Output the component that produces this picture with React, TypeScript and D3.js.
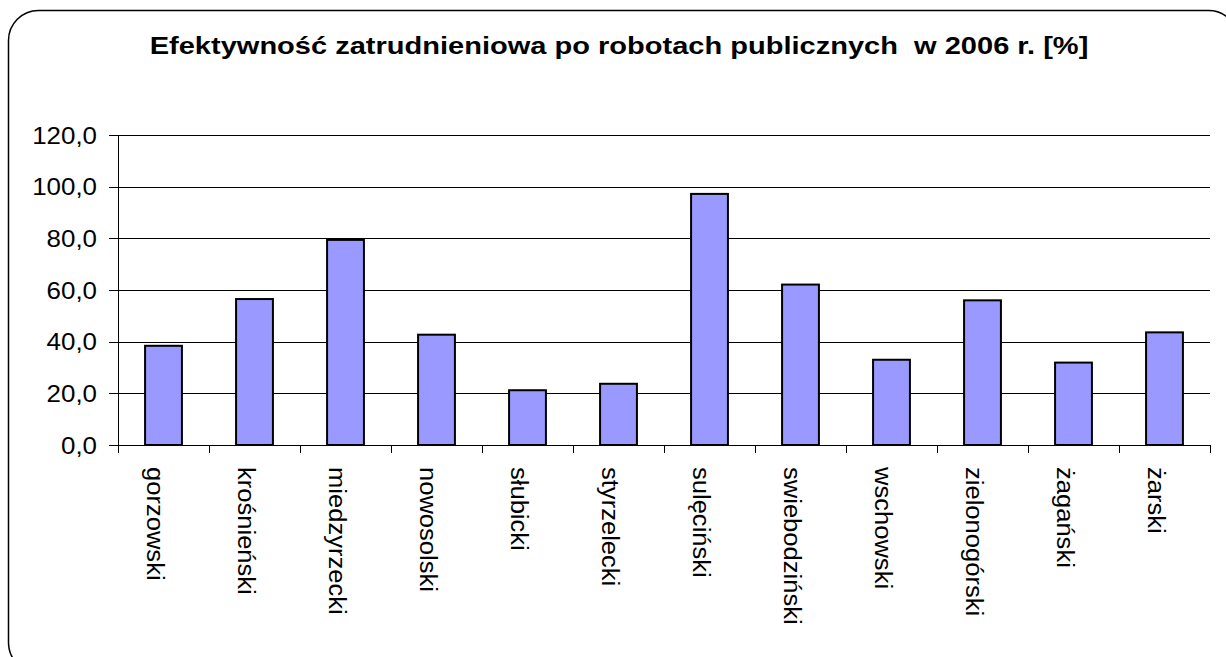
import React from 'react';
import * as d3 from 'd3';

const CATEGORIES = [
  'gorzowski',
  'krośnieński',
  'miedzyrzecki',
  'nowosolski',
  'słubicki',
  'styrzelecki',
  'sulęciński',
  'swiebodziński',
  'wschowski',
  'zielonogórski',
  'żagański',
  'żarski',
];
const VALUES = [38.4, 56.5, 79.4, 42.7, 21.2, 23.7, 97.2, 62.1, 33.0, 56.0, 31.9, 43.6];
const Y_TICKS = [0, 20, 40, 60, 80, 100, 120];
const TITLE = 'Efektywność zatrudnieniowa po robotach publicznych\u00a0 w 2006 r. [%]';

const W = 1226;
const H = 657;
const FONT = 'Arial, "Liberation Sans", sans-serif';

export default function App() {
  const left = 118;
  const right = 1210;
  const top = 135;
  const bottom = 445;

  const x = d3.scaleBand<string>().domain(CATEGORIES).range([left, right]).paddingInner(0.595).paddingOuter(0.2975);
  const y = d3.scaleLinear().domain([0, 120]).range([bottom, top]);
  const step = x.step();
  const fmt = (v: number) => v.toFixed(1).replace('.', ',');

  return (
    <svg width={W} height={H} style={{ position: 'absolute', left: 0, top: 0, background: '#fff' }}>
      <rect x={8.5} y={10.5} width={1230} height={662} rx={30} ry={30} fill="#fff" stroke="#000" strokeWidth={1.5} />
      <text
        transform="translate(619,54) scale(1.21,1)"
        textAnchor="middle"
        fontFamily={FONT}
        fontWeight="bold"
        fontSize={24}
      >
        {TITLE}
      </text>

      {Y_TICKS.map((t) => (
        <g key={t}>
          <line x1={left - 9} x2={right} y1={Math.round(y(t)) + 0.5} y2={Math.round(y(t)) + 0.5} stroke="#000" strokeWidth={1} />
          <text
            transform={`translate(97,${y(t)}) scale(1.08,1)`}
            dy="0.36em"
            textAnchor="end"
            fontFamily={FONT}
            fontSize={24}
          >
            {fmt(t)}
          </text>
        </g>
      ))}

      <line x1={left + 0.5} x2={left + 0.5} y1={top} y2={bottom + 8} stroke="#000" strokeWidth={1} />
      {d3.range(CATEGORIES.length + 1).map((i) => (
        <line key={i} x1={Math.round(left + i * step) + 0.5} x2={Math.round(left + i * step) + 0.5} y1={bottom} y2={bottom + 8} stroke="#000" strokeWidth={1} />
      ))}

      {CATEGORIES.map((c, i) => (
        <rect
          key={c}
          x={x(c)}
          y={y(VALUES[i])}
          width={x.bandwidth()}
          height={bottom - y(VALUES[i])}
          fill="#9999FF"
          stroke="#000"
          strokeWidth={2}
        />
      ))}

      {CATEGORIES.map((c) => {
        const cx = (x(c) ?? 0) + x.bandwidth() / 2;
        return (
          <text
            key={c}
            transform={`translate(${cx - 17},467) rotate(90) scale(1.065,1)`}
            fontFamily={FONT}
            fontSize={24}
          >
            {c}
          </text>
        );
      })}
    </svg>
  );
}
